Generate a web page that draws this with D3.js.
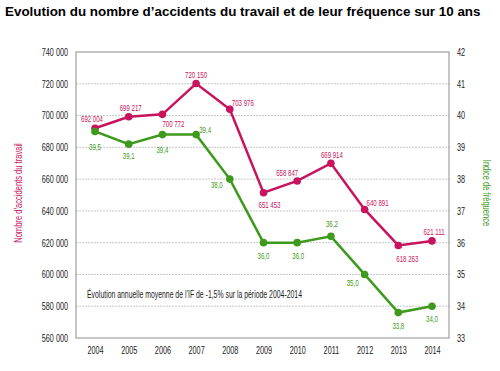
<!DOCTYPE html>
<html lang="fr">
<head>
<meta charset="UTF-8">
<title>Accidents du travail</title>
<script src="https://cdnjs.cloudflare.com/ajax/libs/d3/7.8.5/d3.min.js"></script>
<style>
  body { margin: 0; background: #fff; }
  svg text { font-family: "Liberation Sans", Arial, sans-serif; }
</style>
</head>
<body>
<svg width="500" height="371" id="canvas"></svg>
<script>
// data
const years = ["2004","2005","2006","2007","2008","2009","2010","2011","2012","2013","2014"];
const accidents = [692004, 699217, 700772, 720150, 703976, 651453, 658847, 669914, 640891, 618263, 621111];
const frequence = [39.5, 39.1, 39.4, 39.4, 38.0, 36.0, 36.0, 36.2, 35.0, 33.8, 34.0];
const leftTicks = [560000, 580000, 600000, 620000, 640000, 660000, 680000, 700000, 720000, 740000];
const rightTicks = [33, 34, 35, 36, 37, 38, 39, 40, 41, 42];

// where each value label sits relative to its point
const pinkOff = [[-3,-9],[2,-9],[11,10],[0,-9],[13,-6],[6,12],[-10,-8],[1,-8],[13,-6],[9,14],[2,-9]];
const greenOff = [[0,16],[0,12],[0,15],[9,-5],[-13,6],[0,13],[1,13],[1,-12],[-12,9],[0,13],[0,13]];

const pink = "#c8145e", green = "#3e9a1c";

const svg = d3.select("#canvas");
const m = {left: 76, right: 449, top: 52, bottom: 338};

const x = d3.scalePoint().domain(years).range([95, 432]);
const yL = d3.scaleLinear().domain([560000, 740000]).range([m.bottom, m.top]);
const yR = d3.scaleLinear().domain([33, 42]).range([m.bottom, m.top]);

const fmt = v => d3.format(",")(v).replace(/,/g, " ");
const fmtDec = v => d3.format(".1f")(v).replace(".", ",");

// no narrow font installed: squeeze the glyphs instead
function condense(sel, k) {
    sel.each(function() {
        const w = this.getComputedTextLength();
        d3.select(this).attr("textLength", w * k).attr("lengthAdjust", "spacingAndGlyphs");
    });
}

svg.append("text")
    .attr("x", 5).attr("y", 16)
    .style("font-weight", "bold").style("font-size", "13.4px")
    .text("Evolution du nombre d\u2019accidents du travail et de leur fréquence sur 10 ans");

// dashed grid
svg.append("g").selectAll("line")
    .data(leftTicks.slice(1, -1))
    .join("line")
    .attr("x1", m.left).attr("x2", m.right)
    .attr("y1", d => yL(d)).attr("y2", d => yL(d))
    .attr("stroke", "#c8c8c8").attr("stroke-dasharray", "2,1");

// frame
svg.append("rect")
    .attr("x", m.left).attr("y", m.top)
    .attr("width", m.right - m.left).attr("height", m.bottom - m.top)
    .attr("fill", "none").attr("stroke", "#8c8c8c");

// left axis
const axL = svg.append("g")
    .attr("transform", "translate(" + m.left + ",0)")
    .call(d3.axisLeft(yL).tickValues(leftTicks).tickFormat(fmt).tickSize(0).tickPadding(8));
axL.select(".domain").remove();
axL.selectAll("text").style("font-size", "10.5px").attr("fill", "#222").call(condense, 0.69);

// right axis
const axR = svg.append("g")
    .attr("transform", "translate(" + m.right + ",0)")
    .call(d3.axisRight(yR).tickValues(rightTicks).tickSize(0).tickPadding(8));
axR.select(".domain").remove();
axR.selectAll("text").style("font-size", "10.5px").attr("fill", "#222").call(condense, 0.69);

// bottom axis
const axB = svg.append("g")
    .attr("transform", "translate(0," + m.bottom + ")")
    .call(d3.axisBottom(x).tickSize(0).tickPadding(9));
axB.select(".domain").remove();
axB.selectAll("text").style("font-size", "10.5px").attr("fill", "#222").call(condense, 0.69);
svg.selectAll("g").attr("font-family", null);

// axis titles
svg.append("text")
    .attr("transform", "translate(22,193) rotate(-90)")
    .attr("text-anchor", "middle").style("font-size", "10.5px").attr("fill", pink)
    .text("Nombre d\u2019accidents du travail")
    .call(condense, 0.72);

svg.append("text")
    .attr("transform", "translate(483,193) rotate(90)")
    .attr("text-anchor", "middle").style("font-size", "10.5px").attr("fill", green)
    .text("Indice de fréquence")
    .call(condense, 0.72);

// note
svg.append("text")
    .attr("x", 87).attr("y", 298)
    .style("font-size", "10px").attr("fill", "#222")
    .text("Évolution annuelle moyenne de l\u2019IF de -1,5% sur la période 2004-2014")
    .attr("textLength", 215).attr("lengthAdjust", "spacingAndGlyphs");

function drawSeries(vals, y, color, off, f) {
    const g = svg.append("g");
    g.append("path")
        .datum(vals)
        .attr("fill", "none").attr("stroke", color).attr("stroke-width", 2.5)
        .attr("d", d3.line().x((d, i) => x(years[i])).y(d => y(d)));
    g.selectAll("circle")
        .data(vals)
        .join("circle")
        .attr("cx", (d, i) => x(years[i])).attr("cy", d => y(d))
        .attr("r", 3.8).attr("fill", color);
    g.selectAll("text")
        .data(vals)
        .join("text")
        .attr("x", (d, i) => x(years[i]) + off[i][0])
        .attr("y", (d, i) => y(d) + off[i][1] + 3)
        .attr("text-anchor", "middle")
        .style("font-size", "9.5px").attr("fill", color)
        .text(f)
        .call(condense, 0.64);
}

drawSeries(accidents, yL, pink, pinkOff, fmt);
drawSeries(frequence, yR, green, greenOff, fmtDec);
</script>
</body>
</html>
